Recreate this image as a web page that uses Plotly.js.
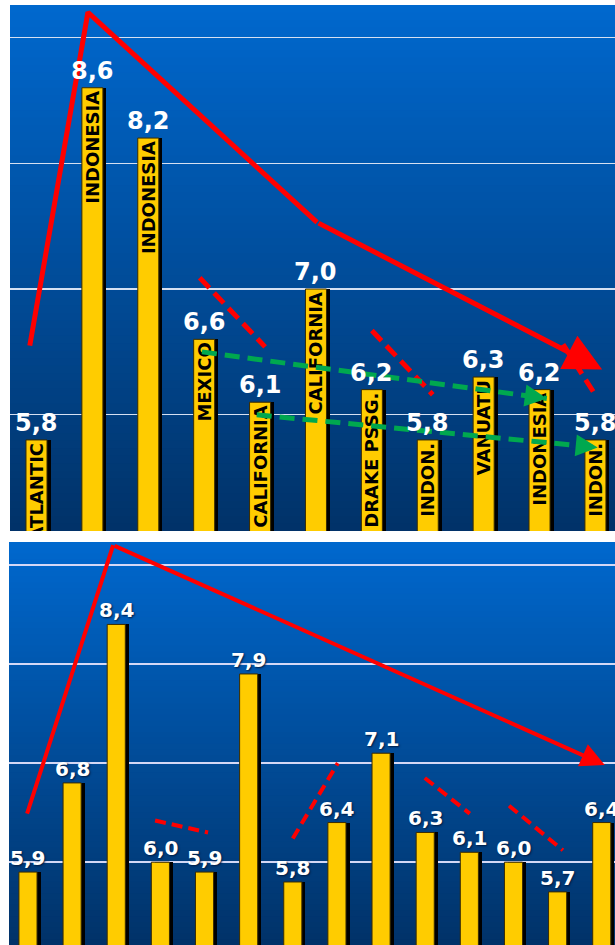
<!DOCTYPE html>
<html>
<head>
<meta charset="utf-8">
<script src="https://cdn.plot.ly/plotly-3.0.1.min.js"></script>
<style>
html, body { margin: 0; padding: 0; background: #ffffff; }
#chart { width: 615px; height: 945px; }
</style>
</head>
<body>
<div id="chart"></div>
<script>
// ---------------- data ----------------
const topValues = [5.8, 8.6, 8.2, 6.6, 6.1, 7.0, 6.2, 5.8, 6.3, 6.2, 5.8];
const topPlaces = ['ATLANTIC', 'INDONESIA', 'INDONESIA', 'MEXICO', 'CALIFORNIA', 'CALIFORNIA',
                   'DRAKE PSSG.', 'INDON.', 'VANUATU', 'INDONESIA', 'INDON.'];
const bottomValues = [5.9, 6.8, 8.4, 6.0, 5.9, 7.9, 5.8, 6.4, 7.1, 6.3, 6.1, 6.0, 5.7, 6.4];

// hand-drawn overlay lines, in chart units (bar index, value)
const topTrendX = [-0.12, 0.92, 5.02];
const topTrendY = [6.55, 9.20, 7.53];
const topTrendTip = [10.12, 6.36];
const topRedDashX = [2.92, 4.09, null, 6.00, 7.09, null, 9.42, 10.01];
const topRedDashY = [7.09, 6.54, null, 6.67, 6.16, null, 6.56, 6.15];
const topGreen1X = [2.96, 9.13];
const topGreen1Y = [6.50, 6.13];
const topGreen2X = [3.94, 10.04];
const topGreen2Y = [6.00, 5.74];

const bottomTrendX = [-0.02, 1.93];
const bottomTrendY = [6.49, 9.20];
const bottomTrendTip = [13.07, 6.98];
const bottomRedDashX = [2.88, 4.08, null, 6.00, 7.02, null, 8.99, 10.01, null, 10.90, 12.12];
const bottomRedDashY = [6.42, 6.30, null, 6.24, 7.00, null, 6.85, 6.49, null, 6.57, 6.12];

// ---------------- styles ----------------
const BAR_YELLOW = '#ffcc00';
const RED = '#ff0000';
const GREEN = '#00a84f';
const FONT = 'DejaVu Sans';
const TOP_W = 0.376, BOT_W = 0.41;
const TOP_SH = 0.063, BOT_SH = 0.08;

const fmt = v => v.toFixed(1).replace('.', ',');
const topIdx = topValues.map((_, i) => i);
const botIdx = bottomValues.map((_, i) => i);

const traces = [];

// shadows + bars
traces.push({
  type: 'bar', x: topIdx, y: topValues, xaxis: 'x', yaxis: 'y',
  width: TOP_W, offset: -TOP_W / 2 + TOP_SH,
  marker: { color: '#000000', line: { width: 0 } }, hoverinfo: 'skip'
});
traces.push({
  type: 'bar', x: topIdx, y: topValues, xaxis: 'x', yaxis: 'y',
  width: TOP_W, offset: -TOP_W / 2,
  marker: { color: BAR_YELLOW, line: { color: '#3a2c00', width: 1 } },
  text: topPlaces, textposition: 'inside', insidetextanchor: 'end',
  textangle: -90, constraintext: 'none',
  insidetextfont: { family: FONT, size: 18, color: '#000000', weight: 'bold' },
  textfont: { family: FONT, size: 18, color: '#000000', weight: 'bold' },
  hoverinfo: 'skip'
});
traces.push({
  type: 'bar', x: botIdx, y: bottomValues, xaxis: 'x2', yaxis: 'y2',
  width: BOT_W, offset: -BOT_W / 2 + BOT_SH,
  marker: { color: '#000000', line: { width: 0 } }, hoverinfo: 'skip'
});
traces.push({
  type: 'bar', x: botIdx, y: bottomValues, xaxis: 'x2', yaxis: 'y2',
  width: BOT_W, offset: -BOT_W / 2,
  marker: { color: BAR_YELLOW, line: { color: '#3a2c00', width: 1 } },
  hoverinfo: 'skip'
});

// overlay lines - top
traces.push({
  type: 'scatter', mode: 'lines', x: topTrendX, y: topTrendY, xaxis: 'x', yaxis: 'y',
  line: { color: RED, width: 5 }, hoverinfo: 'skip', cliponaxis: false
});
traces.push({
  type: 'scatter', mode: 'lines', x: topRedDashX, y: topRedDashY, xaxis: 'x', yaxis: 'y',
  line: { color: RED, width: 5, dash: '14px,7px' }, hoverinfo: 'skip', connectgaps: false
});
const greens = [[topGreen1X, topGreen1Y], [topGreen2X, topGreen2Y]];
greens.forEach(([gx, gy]) => {
  traces.push({
    type: 'scatter', mode: 'lines', x: gx, y: gy, xaxis: 'x', yaxis: 'y',
    line: { color: GREEN, width: 5, dash: '15px,8px' },
    hoverinfo: 'skip', cliponaxis: false
  });
});

// overlay lines - bottom
traces.push({
  type: 'scatter', mode: 'lines', x: bottomTrendX, y: bottomTrendY, xaxis: 'x2', yaxis: 'y2',
  line: { color: RED, width: 4 }, hoverinfo: 'skip', cliponaxis: false
});
traces.push({
  type: 'scatter', mode: 'lines', x: bottomRedDashX, y: bottomRedDashY, xaxis: 'x2', yaxis: 'y2',
  line: { color: RED, width: 4, dash: '11px,6px' }, hoverinfo: 'skip', connectgaps: false
});

// ---------------- annotations ----------------
const annotations = [];
topValues.forEach((v, i) => {
  annotations.push({
    x: i, y: v, xref: 'x', yref: 'y', text: fmt(v), showarrow: false,
    yanchor: 'bottom', yshift: 1,
    font: { family: FONT, size: 24, color: '#ffffff', weight: 'bold' }
  });
});
bottomValues.forEach((v, i) => {
  annotations.push({
    x: i, y: v, xref: 'x2', yref: 'y2', text: fmt(v), showarrow: false,
    yanchor: 'bottom', yshift: 0,
    font: { family: FONT, size: 20, color: '#ffffff', weight: 'bold', shadow: '1px 1px 2px #001a40' }
  });
});
// arrow heads of the red trend lines
annotations.push({
  x: topTrendTip[0], y: topTrendTip[1], xref: 'x', yref: 'y',
  ax: topTrendX[topTrendX.length - 1], ay: topTrendY[topTrendY.length - 1], axref: 'x', ayref: 'y',
  text: '', showarrow: true, arrowhead: 2, arrowsize: 1.5, arrowwidth: 5, arrowcolor: RED
});
annotations.push({
  x: bottomTrendTip[0], y: bottomTrendTip[1], xref: 'x2', yref: 'y2',
  ax: bottomTrendX[bottomTrendX.length - 1], ay: bottomTrendY[bottomTrendY.length - 1], axref: 'x2', ayref: 'y2',
  text: '', showarrow: true, arrowhead: 2, arrowsize: 1.2, arrowwidth: 4, arrowcolor: RED
});
// arrow heads of the green dashed lines (short solid stub along the line end)
greens.forEach(([gx, gy]) => {
  const f = 0.06;
  annotations.push({
    x: gx[1], y: gy[1], xref: 'x', yref: 'y',
    ax: gx[1] - (gx[1] - gx[0]) * f, ay: gy[1] - (gy[1] - gy[0]) * f, axref: 'x', ayref: 'y',
    text: '', showarrow: true, arrowhead: 2, arrowsize: 1.1, arrowwidth: 4, arrowcolor: GREEN
  });
});

// ---------------- gradient background ----------------
const shapes = [];
const TOPC = [0, 104, 206], BOTC = [1, 50, 104];
const N = 70;
['', '2'].forEach(sfx => {
  for (let k = 0; k < N; k++) {
    const t = (k + 0.5) / N; // 0 bottom, 1 top
    const c = BOTC.map((b, j) => Math.round(b + (TOPC[j] - b) * t));
    shapes.push({
      type: 'rect', xref: 'x' + sfx + ' domain', yref: 'y' + sfx + ' domain',
      x0: 0, x1: 1, y0: k / N, y1: Math.min(1, (k + 1) / N + 0.003),
      fillcolor: 'rgb(' + c.join(',') + ')', line: { width: 0 }, layer: 'below'
    });
  }
});

const axisOff = { showgrid: false, showticklabels: false, zeroline: false, ticks: '', showline: false, fixedrange: true };

const layout = {
  width: 615, height: 945,
  margin: { l: 0, r: 0, t: 0, b: 0, pad: 0 },
  paper_bgcolor: '#ffffff', plot_bgcolor: '#00346c',
  showlegend: false, barmode: 'overlay', bargap: 0,
  xaxis: Object.assign({}, axisOff, { domain: [10 / 615, 1], range: [-0.474, 10.35], anchor: 'y' }),
  yaxis: { domain: [1 - 531 / 945, 1 - 5 / 945], range: [5.076, 9.258], anchor: 'x',
           tick0: 0, dtick: 1, showgrid: true, gridcolor: '#d6e0f2', gridwidth: 1.3,
           showticklabels: false, zeroline: false, ticks: '', fixedrange: true },
  xaxis2: Object.assign({}, axisOff, { domain: [9 / 615, 1], range: [-0.43, 13.30], anchor: 'y2' }),
  yaxis2: { domain: [0, 1 - 542 / 945], range: [5.164, 9.232], anchor: 'x2',
            tick0: 0, dtick: 1, showgrid: true, gridcolor: '#d4d8f6', gridwidth: 2,
            showticklabels: false, zeroline: false, ticks: '', fixedrange: true },
  annotations: annotations,
  shapes: shapes
};

Plotly.newPlot('chart', traces, layout, { staticPlot: true, displayModeBar: false });
</script>
</body>
</html>
